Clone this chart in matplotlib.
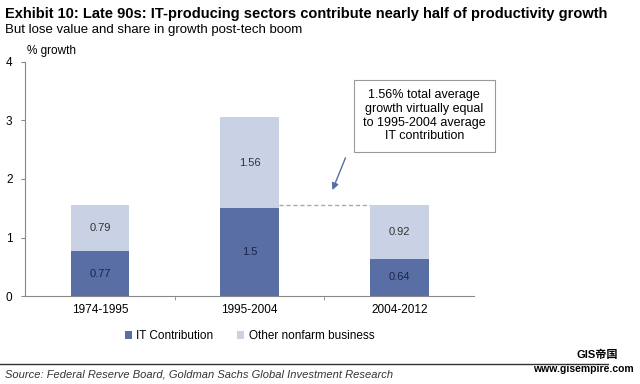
import numpy as np
import matplotlib.pyplot as plt

plt.rcParams['font.family'] = ['Liberation Sans Narrow', 'Liberation Sans', 'DejaVu Sans']

periods = ['1974-1995', '1995-2004', '2004-2012']
it_contrib = [0.77, 1.5, 0.64]
other = [0.79, 1.56, 0.92]
it_labels = ['0.77', '1.5', '0.64']
other_labels = ['0.79', '1.56', '0.92']

dark = '#5a6ea6'
light = '#c9d1e5'

fig = plt.figure(figsize=(6.4, 3.84), dpi=100)
ax = fig.add_axes([0.039, 0.229, 0.702, 0.61])

x = np.arange(len(periods))
ax.bar(x, it_contrib, width=0.39, color=dark, label='IT Contribution')
ax.bar(x, other, width=0.39, bottom=it_contrib, color=light, label='Other nonfarm business')

for i in range(len(periods)):
    ax.text(x[i], it_contrib[i] / 2, it_labels[i], ha='center', va='center', fontsize=8, color='#1c2448')
    ax.text(x[i], it_contrib[i] + other[i] / 2, other_labels[i], ha='center', va='center', fontsize=8, color='#333333')

# dashed reference line at 1.56
ax.plot([x[1] + 0.195, x[2] - 0.195], [other[1], other[1]], ls=(0, (3, 2)), color='#aaaaaa', lw=1)

ax.set_xlim(-0.5, 2.5)
ax.set_ylim(0, 4)
ax.set_yticks([0, 1, 2, 3, 4])
ax.set_xticks(x)
ax.set_xticklabels(periods, fontsize=8.5)
ax.set_xticks([0.5, 1.5], minor=True)
ax.tick_params(axis='x', which='major', length=0, pad=6)
ax.tick_params(axis='x', which='minor', length=3, color='#888888')
ax.tick_params(axis='y', length=3, color='#888888', labelsize=8.5, pad=6)
for s in ['top', 'right']:
    ax.spines[s].set_visible(False)
for s in ['left', 'bottom']:
    ax.spines[s].set_color('#888888')
    ax.spines[s].set_linewidth(0.8)

ax.text(-0.485, 4.08, '% growth', fontsize=8.5, va='bottom', ha='left')

ax.text(2.167, 3.08, '1.56% total average\ngrowth virtually equal\nto 1995-2004 average\nIT contribution',
        fontsize=9, ha='center', va='center', linespacing=1.2,
        bbox=dict(boxstyle='square,pad=0.75', fc='white', ec='#999999', lw=0.8))
ax.annotate('', xy=(1.553, 1.81), xytext=(1.64, 2.36),
            arrowprops=dict(arrowstyle='-|>', color='#5a6ea6', lw=1, shrinkA=0, shrinkB=0))

ax.legend(loc='upper center', bbox_to_anchor=(0.5, -0.1), ncol=2, frameon=False,
          fontsize=8.5, handlelength=0.6, handleheight=0.6, handletextpad=0.4, columnspacing=2.0)

fig.text(0.008, 0.983, 'Exhibit 10: Late 90s: IT-producing sectors contribute nearly half of productivity growth',
         fontsize=10.5, fontweight='bold', va='top', ha='left')
fig.text(0.008, 0.937, 'But lose value and share in growth post-tech boom', fontsize=9.5, va='top', ha='left')

fig.add_artist(plt.Line2D([0, 0.95], [0.051, 0.051], transform=fig.transFigure, color='#333333', lw=1))
fig.text(0.008, 0.025, 'Source: Federal Reserve Board, Goldman Sachs Global Investment Research',
         fontsize=8, style='italic', color='#333333', va='center', ha='left')
fig.text(0.965, 0.075, 'GIS帝国', fontsize=8, fontweight='bold', ha='right', va='center',
         family=['Liberation Sans', 'Noto Sans CJK SC'])
fig.text(0.99, 0.04, 'www.gisempire.com', fontsize=7.5, fontweight='bold', ha='right', va='center')

fig.savefig('out.png', dpi=100)
